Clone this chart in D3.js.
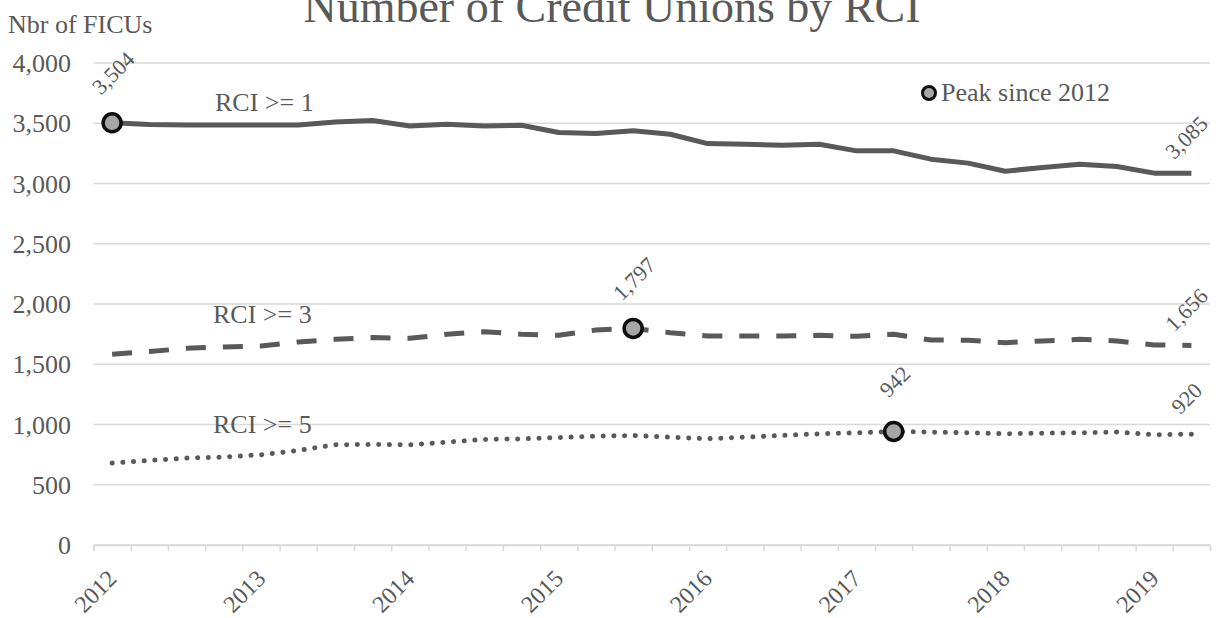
<!DOCTYPE html>
<html>
<head>
<meta charset="utf-8">
<script src="https://cdn.jsdelivr.net/npm/d3@7"></script>
<style>
  body { margin: 0; background: #fff; }
  text { font-family: "Liberation Serif", "Times New Roman", serif; fill: #595959; }
</style>
</head>
<body>
<div id="chart"></div>
<script>
// quarterly categories, 2012Q1 .. 2019Q2
const quarters = ["2012Q1","2012Q2","2012Q3","2012Q4","2013Q1","2013Q2","2013Q3","2013Q4",
  "2014Q1","2014Q2","2014Q3","2014Q4","2015Q1","2015Q2","2015Q3","2015Q4",
  "2016Q1","2016Q2","2016Q3","2016Q4","2017Q1","2017Q2","2017Q3","2017Q4",
  "2018Q1","2018Q2","2018Q3","2018Q4","2019Q1","2019Q2"];
const yearLabels = ["2012","2013","2014","2015","2016","2017","2018","2019"];
const yTicks = [0, 500, 1000, 1500, 2000, 2500, 3000, 3500, 4000];

// series values
const rci1 = [3504,3490,3485,3485,3485,3485,3510,3522,3478,3492,3478,3483,3423,3415,3437,3409,
  3331,3326,3318,3326,3271,3271,3202,3169,3102,3133,3160,3141,3086,3085];
const rci3 = [1583,1605,1632,1644,1652,1685,1707,1721,1715,1749,1770,1749,1740,1784,1797,1762,
  1735,1735,1735,1740,1732,1749,1701,1699,1679,1693,1707,1693,1660,1656];
const rci5 = [680,702,721,730,749,785,832,834,832,854,876,881,892,903,909,895,
  882,895,909,923,931,942,937,931,923,928,931,937,915,920];

const seriesNames = ["RCI >= 1", "RCI >= 3", "RCI >= 5"];
const peakIndex = [0, 14, 21];   // "Peak since 2012"

const width = 1225, height = 618;
const margin = {top: 63, right: 15, bottom: 73, left: 93.5};

const svg = d3.select("#chart").append("svg")
    .attr("width", width)
    .attr("height", height);

const x = d3.scaleLinear()
    .domain([0, quarters.length])
    .range([margin.left, width - margin.right]);
const y = d3.scaleLinear()
    .domain([0, 4000])
    .range([height - margin.bottom, margin.top]);

const cx = i => x(i + 0.5);

// title + axis title (title is clipped at the top like the original)
svg.append("text")
    .attr("x", 612).attr("y", 22)
    .attr("text-anchor", "middle")
    .style("font-size", "46px")
    .text("Number of Credit Unions by RCI");

svg.append("text")
    .attr("x", 8).attr("y", 33)
    .style("font-size", "26px")
    .text("Nbr of FICUs");

// gridlines
svg.append("g").selectAll("line")
  .data(yTicks)
  .join("line")
    .attr("x1", x(0)).attr("x2", x(quarters.length))
    .attr("y1", d => y(d)).attr("y2", d => y(d))
    .attr("stroke", "#d9d9d9")
    .attr("stroke-width", 1.5);

// y labels
svg.append("g").selectAll("text")
  .data(yTicks)
  .join("text")
    .attr("x", 71).attr("y", d => y(d))
    .attr("dy", "0.35em")
    .attr("text-anchor", "end")
    .style("font-size", "26px")
    .text(d => d3.format(",")(d));

// x axis: tick at every quarter boundary
const xAxis = d3.axisBottom(x)
    .tickValues(d3.range(0, quarters.length + 1))
    .tickSize(6)
    .tickFormat("");
const gx = svg.append("g")
    .attr("transform", `translate(0,${y(0)})`)
    .call(xAxis);
gx.select(".domain").attr("stroke", "#d9d9d9").attr("stroke-width", 1.5);
gx.selectAll(".tick line").attr("stroke", "#d9d9d9").attr("stroke-width", 1.5);

// year labels under Q1 of each year
svg.append("g").selectAll("text")
  .data(yearLabels)
  .join("text")
    .attr("text-anchor", "end")
    .attr("transform", (d, k) => `translate(${cx(k * 4) + 6},${y(0) + 35}) rotate(-45)`)
    .style("font-size", "24px")
    .text(d => d);

// lines
const allSeries = [rci1, rci3, rci5];
const dashes = [null, "20,17", "0.1,10.6"];
const line = d3.line()
    .x((d, i) => cx(i))
    .y(d => y(d));

svg.append("g").selectAll("path")
  .data(allSeries)
  .join("path")
    .attr("d", line)
    .attr("fill", "none")
    .attr("stroke", "#595959")
    .attr("stroke-width", 5)
    .attr("stroke-linejoin", "round")
    .attr("stroke-linecap", (d, k) => k === 2 ? "round" : "butt")
    .attr("stroke-dasharray", (d, k) => dashes[k]);

// series names
const namePos = [[215, 111], [213, 323], [213, 433]];
svg.append("g").selectAll("text")
  .data(seriesNames)
  .join("text")
    .attr("x", (d, k) => namePos[k][0])
    .attr("y", (d, k) => namePos[k][1])
    .style("font-size", "26px")
    .text(d => d);

// peak markers
svg.append("g").selectAll("circle")
  .data(peakIndex)
  .join("circle")
    .attr("cx", d => cx(d))
    .attr("cy", (d, k) => y(allSeries[k][d]))
    .attr("r", 9)
    .attr("fill", "#a6a6a6")
    .attr("stroke", "#0d0d0d")
    .attr("stroke-width", 3.5);

// data labels: peak and last value, rotated
const dataLabels = [];
allSeries.forEach((s, k) => {
  dataLabels.push({i: peakIndex[k], v: s[peakIndex[k]], marker: true});
  dataLabels.push({i: s.length - 1, v: s[s.length - 1], marker: false});
});
svg.append("g").selectAll("text")
  .data(dataLabels)
  .join("text")
    .attr("text-anchor", "middle")
    .attr("dy", "0.35em")
    .attr("transform", d => `translate(${cx(d.i) + (d.marker ? 1 : -5)},${y(d.v) - (d.marker ? 50 : 36)}) rotate(-45)`)
    .style("font-size", "22px")
    .text(d => d3.format(",")(d.v));

// legend
const legend = svg.append("g").attr("transform", "translate(929,93)");
legend.append("circle")
    .attr("r", 6.5)
    .attr("fill", "#a6a6a6")
    .attr("stroke", "#0d0d0d")
    .attr("stroke-width", 3);
legend.append("text")
    .attr("x", 12).attr("y", 8)
    .style("font-size", "26px")
    .text("Peak since 2012");
</script>
</body>
</html>
